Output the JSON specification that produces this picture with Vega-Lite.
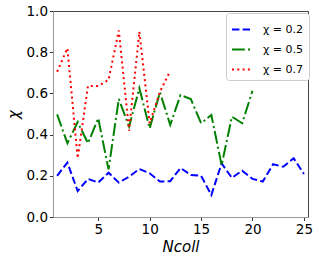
{
  "$schema": "https://vega.github.io/schema/vega-lite/v6.json",
  "width": 255,
  "height": 206,
  "autosize": {"type": "none"},
  "padding": {"left": 53, "top": 11, "right": 11, "bottom": 44},
  "config": {
    "font": "DejaVu Sans",
    "view": {"stroke": "#444", "strokeWidth": 1},
    "axis": {"grid": false, "labelFont": "DejaVu Sans", "labelFontSize": 13.5, "labelColor": "#000", "labelPadding": 2, "tickColor": "#333", "domainColor": "#999", "tickSize": 3.5, "titleFont": "DejaVu Sans", "titleFontWeight": "normal", "titleFontSize": 14, "titleColor": "#000"}
  },
  "data": {
    "values": [
      {"n": 1, "s": "χ = 0.2", "v": 0.200}, {"n": 2, "s": "χ = 0.2", "v": 0.264}, {"n": 3, "s": "χ = 0.2", "v": 0.126},
      {"n": 4, "s": "χ = 0.2", "v": 0.185}, {"n": 5, "s": "χ = 0.2", "v": 0.167}, {"n": 6, "s": "χ = 0.2", "v": 0.215},
      {"n": 7, "s": "χ = 0.2", "v": 0.167}, {"n": 8, "s": "χ = 0.2", "v": 0.196}, {"n": 9, "s": "χ = 0.2", "v": 0.233},
      {"n": 10, "s": "χ = 0.2", "v": 0.212}, {"n": 11, "s": "χ = 0.2", "v": 0.172}, {"n": 12, "s": "χ = 0.2", "v": 0.174},
      {"n": 13, "s": "χ = 0.2", "v": 0.238}, {"n": 14, "s": "χ = 0.2", "v": 0.204}, {"n": 15, "s": "χ = 0.2", "v": 0.200},
      {"n": 16, "s": "χ = 0.2", "v": 0.107}, {"n": 17, "s": "χ = 0.2", "v": 0.260}, {"n": 18, "s": "χ = 0.2", "v": 0.190},
      {"n": 19, "s": "χ = 0.2", "v": 0.225}, {"n": 20, "s": "χ = 0.2", "v": 0.185}, {"n": 21, "s": "χ = 0.2", "v": 0.172},
      {"n": 22, "s": "χ = 0.2", "v": 0.256}, {"n": 23, "s": "χ = 0.2", "v": 0.244}, {"n": 24, "s": "χ = 0.2", "v": 0.285},
      {"n": 25, "s": "χ = 0.2", "v": 0.209},
      {"n": 1, "s": "χ = 0.5", "v": 0.498}, {"n": 2, "s": "χ = 0.5", "v": 0.358}, {"n": 3, "s": "χ = 0.5", "v": 0.461},
      {"n": 4, "s": "χ = 0.5", "v": 0.358}, {"n": 5, "s": "χ = 0.5", "v": 0.479}, {"n": 6, "s": "χ = 0.5", "v": 0.231},
      {"n": 7, "s": "χ = 0.5", "v": 0.573}, {"n": 8, "s": "χ = 0.5", "v": 0.439}, {"n": 9, "s": "χ = 0.5", "v": 0.625},
      {"n": 10, "s": "χ = 0.5", "v": 0.430}, {"n": 11, "s": "χ = 0.5", "v": 0.605}, {"n": 12, "s": "χ = 0.5", "v": 0.447},
      {"n": 13, "s": "χ = 0.5", "v": 0.592}, {"n": 14, "s": "χ = 0.5", "v": 0.573}, {"n": 15, "s": "χ = 0.5", "v": 0.455},
      {"n": 16, "s": "χ = 0.5", "v": 0.495}, {"n": 17, "s": "χ = 0.5", "v": 0.252}, {"n": 18, "s": "χ = 0.5", "v": 0.487},
      {"n": 19, "s": "χ = 0.5", "v": 0.455}, {"n": 20, "s": "χ = 0.5", "v": 0.613},
      {"n": 1, "s": "χ = 0.7", "v": 0.705}, {"n": 2, "s": "χ = 0.7", "v": 0.819}, {"n": 3, "s": "χ = 0.7", "v": 0.285},
      {"n": 4, "s": "χ = 0.7", "v": 0.636}, {"n": 5, "s": "χ = 0.7", "v": 0.636}, {"n": 6, "s": "χ = 0.7", "v": 0.665},
      {"n": 7, "s": "χ = 0.7", "v": 0.905}, {"n": 8, "s": "χ = 0.7", "v": 0.419}, {"n": 9, "s": "χ = 0.7", "v": 0.900},
      {"n": 10, "s": "χ = 0.7", "v": 0.455}, {"n": 11, "s": "χ = 0.7", "v": 0.608}, {"n": 12, "s": "χ = 0.7", "v": 0.709}
    ]
  },
  "mark": {"type": "line", "strokeWidth": 2, "clip": true},
  "encoding": {
    "x": {"field": "n", "type": "quantitative", "scale": {"domain": [0.6, 25.4], "nice": false, "zero": false},
      "axis": {"values": [5, 10, 15, 20, 25], "title": "Ncoll", "titleFontStyle": "italic", "titleFontSize": 15, "titlePadding": 3}},
    "y": {"field": "v", "type": "quantitative", "scale": {"domain": [0, 1], "nice": false},
      "axis": {"values": [0, 0.2, 0.4, 0.6, 0.8, 1.0], "format": ".1f", "title": "χ", "titleFontStyle": "italic", "titleFontSize": 15, "titlePadding": 5}},
    "color": {"field": "s", "type": "nominal",
      "scale": {"domain": ["χ = 0.2", "χ = 0.5", "χ = 0.7"], "range": ["#0000ff", "#008000", "#ff0000"]},
      "legend": {"title": null, "orient": "none", "legendX": 173, "legendY": 2, "symbolType": "stroke", "symbolSize": 441, "symbolStrokeWidth": 2, "labelFontSize": 11, "labelFontStyle": "normal", "labelOffset": 9, "strokeColor": "#ccc", "fillColor": "#fff", "cornerRadius": 3, "padding": 5, "rowPadding": 3}},
    "strokeDash": {"field": "s", "type": "nominal",
      "scale": {"domain": ["χ = 0.2", "χ = 0.5", "χ = 0.7"], "range": [[7.4, 3.2], [12.8, 3.2, 2, 3.2], [2, 3.3]]},
      "legend": {"title": null, "orient": "none", "legendX": 173, "legendY": 2, "symbolType": "stroke", "symbolSize": 441, "symbolStrokeWidth": 2, "labelFontSize": 11, "labelFontStyle": "normal", "labelOffset": 9, "strokeColor": "#ccc", "fillColor": "#fff", "cornerRadius": 3, "padding": 5, "rowPadding": 3}}
  }
}
